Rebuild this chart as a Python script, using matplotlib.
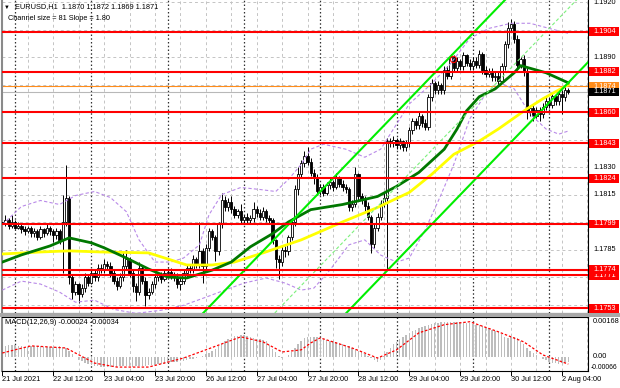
import matplotlib.pyplot as plt
from matplotlib.patches import Rectangle
import numpy as np

# Prijzen staan in pips boven BASE
BASE = 1.1700
PIP = 0.0001

time_labels = ["21 Jul 2021", "22 Jul 12:00", "23 Jul 04:00", "23 Jul 20:00",
               "26 Jul 12:00", "27 Jul 04:00", "27 Jul 20:00", "28 Jul 12:00",
               "29 Jul 04:00", "29 Jul 20:00", "30 Jul 12:00", "2 Aug 04:00"]
day_starts = [4, 28, 52, 76, 100, 124, 148, 172]

# H1 candles (pips)
first_open = 100
closes = [99, 101, 98, 100, 97, 98, 96, 95, 97, 94,
          95, 92, 96, 94, 97, 95, 93, 95, 90, 100,
          113, 70, 62, 66, 61, 64, 70, 67, 72, 70,
          75, 74, 77, 76, 72, 68, 65, 70, 76, 80,
          72, 65, 62, 75, 68, 60, 62, 66, 70, 71,
          69, 72, 73, 71, 70, 66, 68, 72, 75, 74,
          80, 77, 84, 76, 86, 95, 92, 84, 99, 112,
          108, 111, 107, 104, 106, 101, 103, 101, 102, 107,
          105, 103, 106, 102, 101, 90, 80, 78, 85, 84,
          92, 100, 118, 126, 132, 136, 133, 127, 124, 117,
          119, 116, 120, 122, 119, 124, 121, 119, 118, 108,
          110, 126, 114, 112, 109, 103, 88, 97, 103, 110,
          113, 144, 143, 145, 142, 144, 141, 143, 150, 155,
          153, 158, 154, 152, 168, 176, 172, 175, 172, 183,
          180, 190, 184, 188, 185, 191, 187, 185, 188, 186,
          192, 183, 181, 182, 179, 180, 177, 185, 197, 206,
          208, 200, 186, 189, 182, 160, 162, 158, 161, 159,
          163, 166, 164, 169, 166, 170, 168, 172, 171]
highs = [102, 104, 102, 104, 101, 100, 99, 98, 98, 98,
         97, 96, 98, 97, 99, 98, 96, 97, 96, 115,
         131, 114, 71, 68, 67, 66, 72, 71, 74, 74,
         77, 77, 80, 79, 78, 74, 70, 72, 84, 85,
         81, 74, 67, 78, 76, 70, 64, 68, 72, 73,
         73, 74, 75, 75, 73, 72, 70, 74, 77, 77,
         82, 81, 100, 86, 88, 97, 96, 93, 100, 116,
         114, 113, 114, 109, 107, 110, 104, 105, 104, 111,
         109, 107, 108, 107, 104, 102, 91, 82, 87, 87,
         93, 102, 120, 130, 134, 139, 141, 135, 129, 126,
         121, 121, 122, 124, 123, 127, 125, 123, 121, 119,
         112, 130, 127, 116, 114, 111, 104, 99, 105, 112,
         116, 146, 146, 147, 146, 146, 145, 145, 152, 157,
         157, 160, 159, 156, 170, 178, 177, 177, 176, 185,
         185, 192, 191, 190, 189, 193, 192, 189, 190, 190,
         194, 193, 185, 184, 184, 182, 182, 187, 199, 209,
         211, 210, 202, 190, 191, 184, 164, 164, 163, 163,
         165, 168, 168, 171, 170, 172, 172, 174, 173]
lows = [97, 98, 96, 97, 96, 96, 94, 93, 94, 92,
        92, 90, 91, 92, 93, 93, 89, 91, 88, 72,
        98, 66, 58, 60, 56, 59, 62, 65, 66, 68,
        68, 72, 72, 74, 70, 66, 63, 64, 68, 74,
        70, 62, 57, 60, 66, 54, 58, 61, 64, 68,
        67, 68, 70, 69, 68, 64, 63, 66, 70, 72,
        72, 75, 75, 67, 74, 84, 90, 79, 82, 97,
        106, 106, 105, 102, 102, 99, 99, 99, 99, 100,
        103, 101, 101, 100, 99, 88, 75, 69, 76, 81,
        82, 90, 98, 115, 124, 130, 131, 125, 121, 115,
        115, 114, 115, 118, 117, 118, 119, 117, 116, 106,
        106, 108, 112, 110, 106, 101, 83, 86, 95, 101,
        108, 74, 141, 141, 140, 140, 139, 139, 141, 148,
        151, 151, 152, 150, 150, 166, 170, 170, 170, 170,
        178, 178, 182, 182, 183, 183, 185, 183, 183, 184,
        184, 181, 179, 179, 177, 177, 175, 176, 183, 195,
        204, 198, 184, 184, 180, 156, 158, 155, 157, 155,
        157, 161, 162, 162, 164, 164, 159, 166, 170]

levels = [1.1753, 1.1771, 1.1774, 1.1799, 1.1824, 1.1843, 1.1860, 1.1882, 1.1904]
grid_prices = [1.1920, 1.1905, 1.1890, 1.1875, 1.1860, 1.1845, 1.1830,
               1.1815, 1.1800, 1.1785, 1.1770, 1.1755]
# alleen de schaalwaarden die niet achter een label vallen
price_ticks = [1.1920, 1.1890, 1.1830, 1.1815, 1.1785, 1.1770]
bid_price = 1.1871
ask_price = 1.1874

# moving averages (bar, pips)
green_idx = [0, 6, 15, 21, 28, 32, 39, 46, 52, 58, 66, 72, 78, 85, 90, 97, 107,
             118, 124, 131, 139, 143, 146, 150, 155, 161, 163, 171, 178]
green_val = [78.2, 82.1, 87, 91.4, 88.7, 86, 80.4, 74.4, 70, 69.5, 73.8, 78.2,
             86.5, 93.7, 100.1, 106.8, 109.6, 114, 119.5, 127.1, 139.8, 150.8,
             160.7, 168.4, 172.7, 181.5, 185.4, 181.5, 176]
yellow_idx = [0, 12, 21, 31, 46, 52, 58, 66, 73, 82, 94, 107, 118, 128, 135,
              142, 150, 156, 165, 170, 178]
yellow_val = [82.6, 83.7, 84.3, 83.7, 83.2, 79.9, 76.6, 76.6, 78.2, 83.2, 90.3,
              100.1, 108, 116.2, 126, 137, 144.2, 150.8, 161.8, 167.3, 175]

# bands (bar, pips)
upper_idx = [0, 6, 12, 18, 23, 29, 34, 39, 43, 48, 53, 57, 62, 65, 69, 75, 81,
             86, 90, 94, 97, 101, 108, 114, 119, 124, 128, 135, 141, 147, 153,
             160, 166, 172, 178]
upper_val = [98.6, 108.5, 111.8, 109.6, 114.5, 116.7, 113.4, 105.7, 90.3, 78.2,
             78.2, 80.4, 87.6, 104, 115, 118.9, 117.8, 116.7, 123.3, 131.5,
             139.8, 142.5, 139.8, 135.4, 139.8, 153.5, 164.5, 175.5, 186.5,
             200.2, 205.7, 208.5, 208.5, 205.7, 203]
lower_idx = [0, 6, 12, 18, 23, 29, 35, 42, 50, 57, 64, 70, 76, 83, 89, 94, 98,
             103, 109, 114, 119, 124, 128, 133, 138, 142, 147, 152, 157, 161,
             166, 171, 175, 178]
lower_val = [62.9, 67.8, 66.2, 61.8, 56.3, 57.4, 52.4, 50.2, 51.9, 54.6, 59,
             62.9, 66.7, 69.5, 66.7, 62.9, 64, 73.8, 87.6, 90.3, 82, 78.2, 80.4,
             95.8, 115, 131.5, 156.3, 170, 175.5, 172.7, 159, 150.8, 148, 149.7]

channel_size = 81
channel_slope = 1.80
channel_mid = (118.8, 110.0)
channel_from = 60
marker_point = (141.7, 189.2)

# MACD (1e-5)
macd_hist = [50, 52, 55, 55, 55, 52, 50,
             48, 48, 50, 50, 52, 50, 48, 47, 46, 47, 48, 50, 47, 45,
             30, 15, 0, -12,
             -20, -28, -33, -38, -42, -45, -47, -48, -48, -47, -46, -46, -45,
             -45, -44, -45, -46, -45, -44, -43, -42, -40, -38, -37, -35, -33,
             -31, -28, -26, -24, -22, -20, -17, -14, -11, -8, -4,
             0, 5, 12, 20, 30, 40, 50, 62, 75, 85, 92, 98, 102, 105,
             104, 100, 96, 92, 88, 84, 80, 74,
             55, 40, 22, 5, -5, -2,
             10, 25, 45, 62, 78, 90, 96,
             96, 95, 93, 90, 86, 82, 78, 74, 70, 66, 61, 56, 50, 44, 38,
             30, 22, 14, 5, -5, -15, -22,
             -12, 5, 25, 45,
             60, 72, 84, 95, 105, 114, 122, 130, 137, 143, 148, 153, 157, 160,
             163, 165, 167, 168, 168,
             168, 167, 166, 165, 163, 160, 157, 153,
             152, 148, 143, 137, 130, 124, 118, 110,
             95, 92, 95, 96, 90,
             78, 62, 45, 30, 18, 8,
             0, -8, -15, -22, -27, -30, -32, -30, -27, -24]
signal_idx = [0, 9, 20, 29, 36, 46, 57, 64, 75, 82, 88, 94, 97, 100, 110, 118,
              124, 131, 139, 147, 156, 160, 164, 170, 178]
signal_val = [19, 53, 43, -29, -48, -48, -5, 34, 96, 72, 24, 34, 67, 91, 43, -5,
              34, 115, 154, 168, 120, 96, 72, 10, -34]
macd_ticks = ["0.00168", "0.00", "-0.00066"]

title = "EURUSD,H1  1.1870 1.1872 1.1869 1.1871"
channel_text = "Channel size = %d Slope = %.2f" % (channel_size, channel_slope)
macd_text = "MACD(12,26,9) -0.00024 -0.00034"

FS = 5.3


def to_price(p):
    return BASE + np.asarray(p, dtype=float) * PIP


def plot_grid(ax, horizontal):
    for i in range(0, 185, 8):
        ax.axvline(i, color='#c4c4c4', linestyle=(0, (3, 3)), linewidth=0.7, zorder=0)
    for d in day_starts:
        ax.axvline(d, color='#303030', linestyle=(0, (1.2, 1.8)), linewidth=0.9, zorder=0.5)
    if horizontal:
        for t in grid_prices:
            ax.axhline(t, color='#c4c4c4', linestyle=(0, (3, 3)), linewidth=0.7, zorder=0)


def plot_candles(ax):
    c = to_price(closes)
    o = np.concatenate([[to_price(first_open)], c[:-1]])
    h = np.maximum(to_price(highs), np.maximum(o, c))
    l = np.minimum(to_price(lows), np.minimum(o, c))
    idx = np.arange(len(c))
    ax.vlines(idx, l, h, color='black', linewidth=0.7, zorder=2)
    body = np.maximum(np.abs(c - o), 0.4 * PIP)
    bottom = np.minimum(o, c)
    up = c >= o
    ax.bar(idx[up], body[up], bottom=bottom[up], width=0.72, color='white',
           edgecolor='black', linewidth=0.6, zorder=3)
    ax.bar(idx[~up], body[~up], bottom=bottom[~up], width=0.72, color='black',
           edgecolor='black', linewidth=0.6, zorder=3)


def plot_channel(ax):
    i0, p0 = channel_mid
    x = np.array([channel_from, 184.5])
    mid = p0 + channel_slope * (x - i0)
    half = channel_size / 2
    ax.plot(x, to_price(mid + half), color='#00ee00', linewidth=1.5, zorder=5)
    ax.plot(x, to_price(mid - half), color='#00ee00', linewidth=1.5, zorder=5)
    ax.plot(x, to_price(mid), color='#7cf07c', linewidth=0.8,
            linestyle=(0, (3, 2)), zorder=5)
    ax.plot(marker_point[0], to_price(marker_point[1]), marker='o', ms=4.5,
            mfc='none', mec='red', mew=0.8, zorder=6)


def price_label(ax, price, text, face, z):
    tr = ax.get_yaxis_transform()
    if face is not None:
        ax.add_patch(Rectangle((1.0017, price - 2.4 * PIP), 0.0512, 4.8 * PIP,
                               transform=tr, facecolor=face, edgecolor='none',
                               clip_on=False, zorder=z))
        color = 'white'
    else:
        color = 'black'
    ax.text(1.0085, price, text, transform=tr, color=color, fontsize=FS,
            va='center', ha='left', clip_on=False, zorder=z + 1)


def main():
    plt.rcParams['font.family'] = ['Liberation Sans', 'DejaVu Sans']
    fig = plt.figure(figsize=(6.2, 3.88), dpi=100)
    ax = fig.add_axes([2 / 620, 75 / 388, 586 / 620, 313 / 388])
    ax2 = fig.add_axes([2 / 620, 17 / 388, 586 / 620, 54 / 388])

    # paneelscheiding
    fig.patches.append(Rectangle((0, 71 / 388), 1, 4 / 388, transform=fig.transFigure,
                                 facecolor='#a8a8a8', edgecolor='none'))

    # hoofdgrafiek
    plot_grid(ax, True)
    ax.axhline(bid_price, color='#b8b8b8', linewidth=0.8, zorder=1)
    ax.axhline(ask_price, color='#ff8c1a', linewidth=0.8, zorder=1)
    plot_candles(ax)
    ax.plot(upper_idx, to_price(upper_val), color='#b98ae8', linewidth=0.8,
            linestyle=(0, (3, 2)), zorder=4)
    ax.plot(lower_idx, to_price(lower_val), color='#b98ae8', linewidth=0.8,
            linestyle=(0, (3, 2)), zorder=4)
    ax.plot(yellow_idx, to_price(yellow_val), color='#ffff00', linewidth=2.0, zorder=4)
    ax.plot(green_idx, to_price(green_val), color='#007800', linewidth=2.0, zorder=4)
    plot_channel(ax)
    for lv in levels:
        ax.axhline(lv, color='#ff0000', linewidth=1.5, zorder=6)

    ax.set_xlim(-0.1, 184.2)
    ax.set_ylim(BASE + 50.4 * PIP, BASE + 221.2 * PIP)

    # prijsas
    for t in price_ticks:
        price_label(ax, t, "%.4f" % t, None, 8)
    z = 10
    for lv in levels:
        price_label(ax, lv, "%.4f" % lv, '#ff0000', z)
        z += 2
    price_label(ax, ask_price, "%.4f" % ask_price, '#ff8c1a', z)
    price_label(ax, bid_price, "%.4f" % bid_price, '#000000', z + 2)

    # MACD
    plot_grid(ax2, False)
    idx = np.arange(len(macd_hist))
    ax2.bar(idx, np.array(macd_hist) * 1e-5, width=0.45, color='#bdbdbd', zorder=2)
    ax2.plot(signal_idx, np.array(signal_val) * 1e-5, color='#ff0000', linewidth=0.9,
             linestyle=(0, (2, 1.5)), zorder=3)
    ax2.set_xlim(-0.1, 184.2)
    ax2.set_ylim(-66.7e-5, 190.5e-5)
    tr2 = ax2.get_yaxis_transform()
    ax2.text(1.0085, float(macd_ticks[0]), macd_ticks[0], transform=tr2, fontsize=FS,
             va='center', ha='left', clip_on=False)
    ax2.text(1.0085, float(macd_ticks[1]), macd_ticks[1], transform=tr2, fontsize=FS,
             va='center', ha='left', clip_on=False)
    ax2.text(1.004, 0.0, macd_ticks[2], transform=ax2.transAxes, fontsize=4.9,
             va='bottom', ha='left', clip_on=False)

    # tijdas
    trx = ax2.get_xaxis_transform()
    for k, lab in enumerate(time_labels):
        i = k * 16
        ax2.plot([i, i], [0, -0.07], color='black', linewidth=0.7,
                 transform=trx, clip_on=False)
        ax2.text(i, -0.15, lab, transform=trx, fontsize=FS, ha='left', va='center')

    for a in (ax, ax2):
        a.set_xticks([])
        a.set_yticks([])
        a.spines['left'].set_color('#8a8a8a')
        a.spines['left'].set_linewidth(1.5)
        a.spines['right'].set_linewidth(0.8)
        a.spines['bottom'].set_linewidth(0.8)
        a.spines['top'].set_linewidth(0.8)
    ax.spines['top'].set_visible(False)

    # teksten linksboven
    fig.text(4 / 620, 1 - 7 / 388, "\u25bc", fontsize=4.2, va='center')
    fig.text(15 / 620, 1 - 7 / 388, title, fontsize=FS, va='center')
    fig.text(8 / 620, 1 - 19 / 388, channel_text, fontsize=FS, va='center')
    fig.text(5 / 620, 1 - 323 / 388, macd_text, fontsize=FS, va='center')

    fig.savefig("out.png", dpi=100)


if __name__ == "__main__":
    main()
